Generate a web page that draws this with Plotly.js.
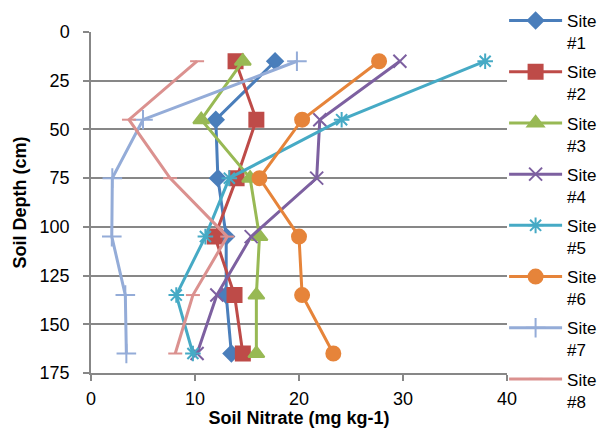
<!DOCTYPE html>
<html><head><meta charset="utf-8">
<script src="https://cdn.plot.ly/plotly-3.0.1.min.js"></script>
<style>body{margin:0;background:#fff}#chart{width:601px;height:428px}</style>
</head><body><div id="chart"></div>
<script>
const depths = [15, 45, 75, 105, 135, 165];
const siteNames = ["Site<br>#1","Site<br>#2","Site<br>#3","Site<br>#4","Site<br>#5","Site<br>#6","Site<br>#7","Site<br>#8"];
const site1 = [17.7, 12.0, 12.2, 13.0, 13.0, 13.5];
const site2 = [13.9, 15.9, 14.0, 11.9, 13.8, 14.6];
const site3 = [14.6, 10.6, 15.3, 16.2, 15.9, 15.9];
const site4 = [29.7, 22.0, 21.7, 15.4, 12.1, 10.2];
const site5 = [37.9, 24.1, 13.3, 11.0, 8.2, 9.8];
const site6 = [27.7, 20.3, 16.2, 20.0, 20.3, 23.3];
const site7 = [19.8, 5.0, 2.05, 2.0, 3.3, 3.4];
const site8 = [10.2, 3.65, 7.6, 13.1, 9.8, 8.1];
const xTicks = [0, 10, 20, 30, 40];
const yTicks = [0, 25, 50, 75, 100, 125, 150, 175];

const series = [site1, site2, site3, site4, site5, site6, site7, site8];
const colors = ["#4A7EBB","#BE4B48","#98B954","#7D60A0","#46AAC5","#E6843A","#94ACD8","#DB918F"];
const symbols = ["diamond","square","triangle-up","x-thin-open","asterisk-open","circle","cross-thin-open","line-ew-open"];
const sizes = [12, 14, 14, 13, 13, 14, 14, 10];

const traces = series.map((s, i) => ({
  x: s, y: depths, type: "scatter", mode: "lines+markers",
  name: siteNames[i], legendgroup: "g" + i,
  line: {color: colors[i], width: 3},
  marker: {symbol: symbols[i], size: sizes[i], color: colors[i], line: {color: colors[i], width: 2}}
}));

const fam = "Liberation Sans, Arial, sans-serif";
const font = {family: fam, size: 18, color: "#000"};
const layout = {
  width: 601, height: 428,
  margin: {l: 91, r: 94, t: 32, b: 55, autoexpand: false},
  paper_bgcolor: "#fff", plot_bgcolor: "#fff",
  font: font,
  showlegend: true,
  legend: {x: 0.993, xanchor: "left", xref: "paper", y: 0.993, yref: "container", yanchor: "top", valign: "top",
    tracegroupgap: 4, font: {family: fam, size: 17, color: "#000"}, itemwidth: 53, maxheight: 1,
    bgcolor: "rgba(0,0,0,0)"},
  xaxis: {range: [0, 40], tickvals: xTicks, ticktext: xTicks.map(String), automargin: false,
    showgrid: false, zeroline: false, showline: true, linecolor: "#878787", linewidth: 1.5,
    ticks: "outside", ticklen: 6, tickcolor: "#878787", tickwidth: 1.5, ticklabelstandoff: 3,
    title: {text: "<b>Soil Nitrate (mg kg-1)</b>", font: {family: fam, size: 18}, standoff: 7}},
  yaxis: {range: [175, 0], tickvals: yTicks, ticktext: yTicks.map(String), automargin: false,
    showgrid: true, gridcolor: "#878787", gridwidth: 1.5, zeroline: false,
    showline: true, linecolor: "#878787", linewidth: 1.5,
    ticks: "outside", ticklen: 6, tickcolor: "#878787", tickwidth: 1.5, ticklabelstandoff: 10,
    title: {text: "<b>Soil Depth (cm)</b>", font: {family: fam, size: 18}, standoff: 8}}
};
Plotly.newPlot("chart", traces, layout, {displayModeBar: false});
</script></body></html>
